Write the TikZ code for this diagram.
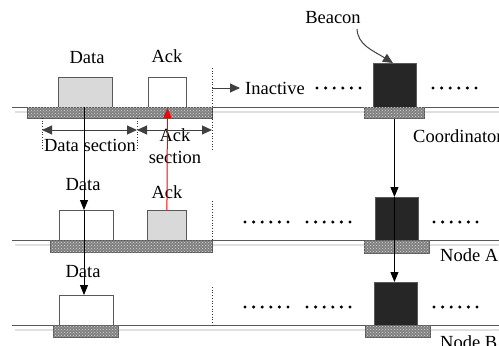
\documentclass[tikz,border=0pt]{standalone}
\usepackage{fontspec}
\setmainfont{Liberation Serif}
\usetikzlibrary{arrows.meta,patterns}
\begin{document}
\begin{tikzpicture}[x=1pt, y=-1pt,
    lbl/.style={inner sep=1pt, font=\fontsize{18.5}{20}\selectfont},
    slot/.style={draw=black!65, line width=0.9pt, anchor=north west, inner sep=0pt},
    beaconbox/.style={slot, fill=black!85, minimum width=43pt},
    bar/.style={slot, fill=black!50, postaction={pattern=crosshatch dots, pattern color=black!15}},
    axis/.style={draw=black!65, line width=0.9pt},
    shadow/.style={draw=black!12, line width=1.2pt},
    sect/.style={dotted, draw=black!80, line width=0.7pt},
    secarrow/.style={{Triangle[length=10pt,width=9pt]}-{Triangle[length=10pt,width=9pt]}, draw=black!75, line width=1pt},
    msg/.style={-{Triangle[length=10pt,width=8pt]}, line width=1pt},
    dots/.style={line width=3.4pt, line cap=round, dash pattern=on 0pt off 8.6pt}]
  \useasboundingbox (0,0) rectangle (499,346);

  % time axes
  \foreach \y in {107,240,325} {
    \draw[shadow] (15,\y+5) -- (499,\y+5);
    \draw[axis] (12,\y) -- (499,\y);
  }

  % coordinator
  \node[slot, fill=black!15, minimum width=54pt, minimum height=30pt] (cdata) at (58,77) {};
  \node[slot, fill=white, minimum width=38pt, minimum height=30pt] (cack) at (148,77) {};
  \node[bar, minimum width=185pt, minimum height=11pt] (cbar) at (27,107) {};
  \node[beaconbox, minimum height=44pt] (cbeacon) at (373,63) {};
  \node[bar, minimum width=60pt, minimum height=11pt] (cbbar) at (364,107) {};

  % node A
  \node[slot, fill=white, minimum width=54pt, minimum height=30pt] (adata) at (59,210) {};
  \node[slot, fill=black!15, minimum width=39pt, minimum height=30pt] (aack) at (147,210) {};
  \node[bar, minimum width=162pt, minimum height=12pt] (abar) at (50,240) {};
  \node[beaconbox, minimum height=43pt] (abeacon) at (375,197) {};
  \node[bar, minimum width=65pt, minimum height=13pt] (abbar) at (364,240) {};

  % node B
  \node[slot, fill=white, minimum width=54pt, minimum height=30pt] (bdata) at (59,295) {};
  \node[bar, minimum width=65pt, minimum height=12pt] (bbar) at (53,325) {};
  \node[beaconbox, minimum height=43pt] (bbeacon) at (374,282) {};
  \node[bar, minimum width=65pt, minimum height=12pt] (bbbar) at (365,325) {};

  % labels
  \node[lbl] (cdatalbl) at (87,58) {Data};
  \node[lbl] (cacklbl) at (167,56) {Ack};
  \node[lbl] (beacon) at (333,18) {Beacon};
  \node[lbl, anchor=west] (inactive) at (244,88) {Inactive};
  \node[lbl, anchor=west] (coord) at (412,136) {Coordinator};
  \node[lbl] (datasec) at (90,145) {Data section};
  \node[lbl, align=center, font=\fontsize{18.5}{22}\selectfont] (acksec) at (175,146) {Ack\\section};
  \node[lbl] (adatalbl) at (83,185) {Data};
  \node[lbl] (aacklbl) at (167,192) {Ack};
  \node[lbl, anchor=west] (nodea) at (439,255) {Node A};
  \node[lbl] (bdatalbl) at (83,272) {Data};
  \node[lbl, anchor=west] (nodeb) at (439,342) {Node B};

  % section marks
  \coordinate (secA) at (42,130);
  \coordinate (secB) at (137,130);
  \coordinate (secC) at (212,130);
  \draw[sect] (42,118) -- (42,150);
  \draw[sect] (137,118) -- (137,150);
  \draw[sect] (212,68) -- (212,150);
  \draw[sect] (212,201) -- (212,240);
  \draw[sect] (212,287) -- (212,325);
  \draw[secarrow] (secA) -- (secB);
  \draw[secarrow] (secB) -- (secC);
  \coordinate (inact) at (212,88);
  \draw[-{Triangle[length=10pt,width=9pt]}, draw=black!75, line width=1pt, shorten >=4pt] (inact) -- (inactive.west);

  % inactive dots
  \draw[dots] (317,88) -- (361,88);
  \draw[dots] (433,88) -- (477,88);
  \foreach \y in {222,307} {
    \draw[dots] (245,\y) -- (289,\y);
    \draw[dots] (307,\y) -- (351,\y);
    \draw[dots] (434,\y) -- (478,\y);
  }

  % messages
  \draw[msg] (84,107) -- (84,210);
  \draw[msg] (84,210) -- (84,295);
  \draw[msg, red] (aack.north) -- (cack.south);
  \draw[msg] (cbbar.south) -- (cbbar.south |- abeacon.north);
  \draw[msg] (cbbar.south |- abeacon.north) -- (cbbar.south |- bbeacon.north);
  \draw[{Triangle[length=10pt,width=9pt]}-, draw=black!75, line width=1pt]
    (cbeacon.north) ++(-2,0) coordinate (btip)
    (btip) .. controls (372,50) and (358,45) .. (357,29);
\end{tikzpicture}
\end{document}
